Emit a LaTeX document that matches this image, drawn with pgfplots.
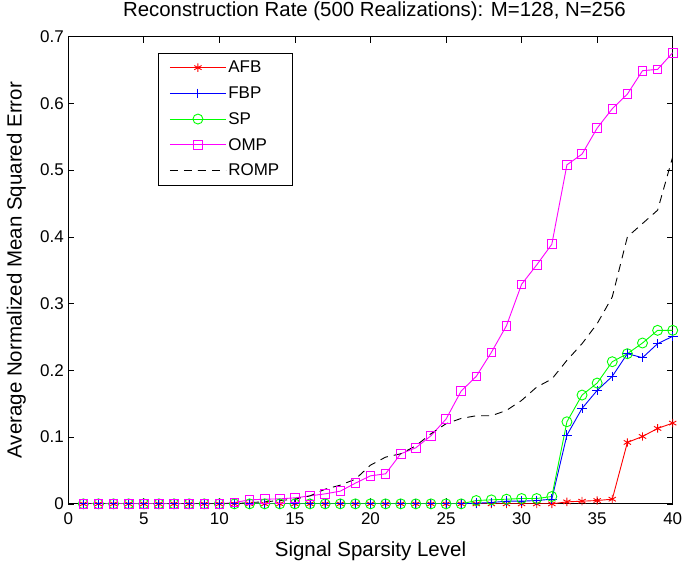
\documentclass[border=0pt]{standalone}
\usepackage{pgfplots}
\pgfplotsset{compat=1.18}
\usepackage{fontspec}
\setmainfont{Liberation Sans}
\definecolor{mred}{RGB}{255,0,0}
\definecolor{mblue}{RGB}{0,0,255}
\definecolor{mgreen}{RGB}{0,255,0}
\definecolor{mmag}{RGB}{255,0,255}
\newcommand\fs{\fontsize{17}{20}\selectfont}
\newcommand\fl{\fontsize{20.5}{24}\selectfont}

\begin{document}
\begin{tikzpicture}
\begin{axis}[
    name=main,
    scale only axis,
    width=605pt, height=467.6pt,
    xmin=0, xmax=40, ymin=0, ymax=0.7,
    xtick={0,5,...,40},
    ytick={0,0.1,0.2,0.3,0.4,0.5,0.6,0.7},
    tick align=inside,
    major tick length=6pt,
    tick style={black, line width=0.6pt},
    axis line style={black, line width=0.8pt},
    /pgf/number format/assume math mode=true,
    yticklabel style={/pgf/number format/fixed, /pgf/number format/precision=1, xshift=-1pt},
    xticklabel style={yshift=-5pt},
    tick label style={font=\fs},
    label style={font=\fl},
    title={Reconstruction Rate (500 Realizations): M=128, N=256},
    title style={font=\fontsize{20.4}{24}\selectfont, at={(axis description cs:0.5,1.0308)}, anchor=base, xshift=4pt},
    xlabel={Signal Sparsity Level},
    xlabel style={at={(axis description cs:0.5,-0.1127)}, anchor=base},
    ylabel={Average Normalized Mean Squared Error},
    ylabel style={at={(axis description cs:-0.077,0.5)}, anchor=base},
    legend style={at={(axis description cs:0.1487,0.9658)}, anchor=north west,
        font=\fs, draw=black, line width=0.8pt, row sep=8.5pt,
        inner xsep=11pt, inner ysep=6pt, cells={anchor=west}},
    legend image code/.code={%
        \draw[mark repeat=2,mark phase=2,#1] plot coordinates {(0pt,0pt) (28pt,0pt) (56pt,0pt)};},
    every axis plot/.append style={line width=0.9pt},
]
% AFB
\addplot[mred, mark=asterisk, mark size=4.2pt, mark options={solid}] coordinates {
(1,0) (2,0) (3,0) (4,0) (5,0) (6,0) (7,0) (8,0) (9,0) (10,0)
(11,0) (12,0) (13,0) (14,0) (15,0) (16,0) (17,0) (18,0) (19,0) (20,0)
(21,0) (22,0) (23,0) (24,0) (25,0) (26,0) (27,0) (28,0) (29,0) (30,0)
(31,0) (32,0) (33,0.003) (34,0.004) (35,0.005) (36,0.007) (37,0.092) (38,0.101) (39,0.113) (40,0.121)
};
\addlegendentry{AFB}
% FBP
\addplot[mblue, mark=+, mark size=4.8pt] coordinates {
(1,0) (2,0) (3,0) (4,0) (5,0) (6,0) (7,0) (8,0) (9,0) (10,0)
(11,0) (12,0) (13,0) (14,0) (15,0) (16,0) (17,0) (18,0) (19,0) (20,0)
(21,0) (22,0) (23,0) (24,0) (25,0) (26,0) (27,0.001) (28,0.002) (29,0.004) (30,0.004)
(31,0.005) (32,0.007) (33,0.103) (34,0.143) (35,0.170) (36,0.191) (37,0.225) (38,0.219) (39,0.240) (40,0.251)
};
\addlegendentry{FBP}
% SP
\addplot[mgreen, mark=o, mark size=5pt] coordinates {
(1,0) (2,0) (3,0) (4,0) (5,0) (6,0) (7,0) (8,0) (9,0) (10,0)
(11,0) (12,0) (13,0) (14,0) (15,0) (16,0) (17,0) (18,0) (19,0) (20,0)
(21,0) (22,0) (23,0) (24,0) (25,0) (26,0) (27,0.005) (28,0.006) (29,0.007) (30,0.008)
(31,0.008) (32,0.011) (33,0.123) (34,0.163) (35,0.181) (36,0.213) (37,0.225) (38,0.241) (39,0.260) (40,0.260)
};
\addlegendentry{SP}
% OMP
\addplot[mmag, mark=square, mark size=4.3pt] coordinates {
(1,0) (2,0) (3,0) (4,0) (5,0) (6,0) (7,0) (8,0) (9,0) (10,0)
(11,0.002) (12,0.006) (13,0.007) (14,0.0075) (15,0.009) (16,0.012) (17,0.015) (18,0.019) (19,0.031) (20,0.042)
(21,0.045) (22,0.075) (23,0.084) (24,0.102) (25,0.127) (26,0.169) (27,0.191) (28,0.227) (29,0.267) (30,0.329)
(31,0.358) (32,0.389) (33,0.508) (34,0.524) (35,0.563) (36,0.592) (37,0.614) (38,0.649) (39,0.651) (40,0.676)
};
\addlegendentry{OMP}
% ROMP
\addplot[black, dash pattern=on 8pt off 6pt] coordinates {
(1,0) (2,0) (3,0) (4,0) (5,0) (6,0) (7,0) (8,0) (9,0) (10,0)
(11,0) (12,0.002) (13,0.003) (14,0.005) (15,0.007) (16,0.012) (17,0.022) (18,0.028) (19,0.037) (20,0.058)
(21,0.070) (22,0.075) (23,0.087) (24,0.105) (25,0.120) (26,0.128) (27,0.132) (28,0.132) (29,0.140) (30,0.155)
(31,0.175) (32,0.187) (33,0.215) (34,0.240) (35,0.270) (36,0.310) (37,0.400) (38,0.420) (39,0.440) (40,0.520)
};
\addlegendentry{ROMP}
\end{axis}
\pgfresetboundingbox
\path[use as bounding box] ([xshift=-68.3pt,yshift=-60.7pt]main.south west) rectangle ([xshift=11.3pt,yshift=36.7pt]main.north east);
\end{tikzpicture}
\end{document}
